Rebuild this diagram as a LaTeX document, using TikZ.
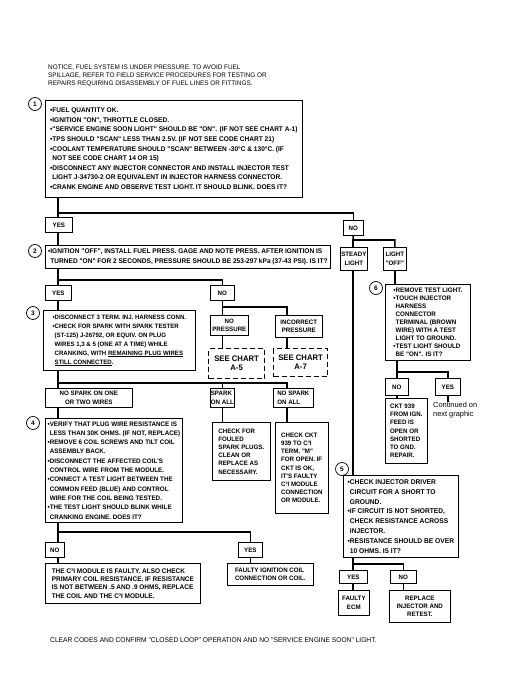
\documentclass[tikz,border=0pt]{standalone}
\usepackage{fontspec}
\setmainfont{Liberation Sans}
\newfontfamily\cf{Liberation Sans}[FakeStretch=0.965]
\newcommand{\fa}{\cf\bfseries\fontsize{6.8}{9.6}\selectfont}
\newcommand{\fb}{\cf\bfseries\fontsize{6.3}{9.0}\selectfont}
\newcommand{\fc}{\cf\bfseries\fontsize{6.4}{8.2}\selectfont}
\newcommand{\ii}{\hphantom{•}}
\begin{document}
\begin{tikzpicture}[x=1pt,y=-1pt,
  box/.style={draw, line width=0.7pt, inner sep=0pt, anchor=north west},
  lbox/.style={box, align=left},
  cbox/.style={box, align=center, font=\fc},
  see/.style={draw, dash pattern=on 5pt off 3pt, line width=1.2pt, inner sep=0pt, anchor=north west, align=center, font=\cf\bfseries\fontsize{8}{9}\selectfont},
  conn/.style={line width=1.6pt},
  num/.style={draw, circle, line width=0.7pt, minimum size=13pt, inner sep=0pt, font=\bfseries\fontsize{6.5}{7}\selectfont},
  plain/.style={anchor=north west, align=left, inner sep=0pt},
]
\useasboundingbox (0,0) rectangle (510,700);

% notice
\node[plain, font=\cf\fontsize{6.6}{8}\selectfont] (notice) at (48,65) {NOTICE, FUEL SYSTEM IS UNDER PRESSURE. TO AVOID FUEL\\SPILLAGE, REFER TO FIELD SERVICE PROCEDURES FOR TESTING OR\\REPAIRS REQUIRING DISASSEMBLY OF FUEL LINES OR FITTINGS.};

% step 1
\node[num] (n1) at (35,104) {1};
\node[lbox, font=\fa, minimum width=257pt, minimum height=97pt] (b1) at (45,100) {%
•FUEL QUANTITY OK.\\
•IGNITION "ON", THROTTLE CLOSED.\\
•"SERVICE ENGINE SOON LIGHT" SHOULD BE "ON". (IF NOT SEE CHART A-1)\\
•TPS SHOULD "SCAN" LESS THAN 2.5V. (IF NOT SEE CODE CHART 21)\\
•COOLANT TEMPERATURE SHOULD "SCAN" BETWEEN -30°C \& 130°C. (IF\\
\ii NOT SEE CODE CHART 14 OR 15)\\
•DISCONNECT ANY INJECTOR CONNECTOR AND INSTALL INJECTOR TEST\\
\ii LIGHT J-34730-2 OR EQUIVALENT IN INJECTOR HARNESS CONNECTOR.\\
•CRANK ENGINE AND OBSERVE TEST LIGHT. IT SHOULD BLINK. DOES IT?};

\node[cbox, minimum width=27pt, minimum height=15pt] (yes1) at (45,217) {YES};
\node[cbox, minimum width=20pt, minimum height=15pt] (no1) at (343,220) {NO};

% step 2
\node[num] (n2) at (35,251) {2};
\node[lbox, font=\fa, minimum width=285pt, minimum height=23pt] (b2) at (45,245) {%
•IGNITION "OFF", INSTALL FUEL PRESS. GAGE AND NOTE PRESS. AFTER IGNITION IS\\
\ii TURNED "ON" FOR 2 SECONDS, PRESSURE SHOULD BE 253-297 kPa (37-43 PSI). IS IT?};
\node[cbox, minimum width=27pt, minimum height=23pt] (steady) at (340,247) {STEADY\\LIGHT};
\node[cbox, minimum width=23pt, minimum height=23pt] (loff) at (383,247) {LIGHT\\"OFF"};

\node[cbox, minimum width=26pt, minimum height=15pt] (yes2) at (45,285) {YES};
\node[cbox, minimum width=24pt, minimum height=15pt] (no2) at (210,285) {NO};

% step 3
\node[num] (n3) at (33,313) {3};
\node[lbox, font=\fb, minimum width=152pt, minimum height=60pt] (b3) at (43,310) {%
•DISCONNECT 3 TERM. INJ. HARNESS CONN.\\
•CHECK FOR SPARK WITH SPARK TESTER\\
\ii (ST-125) J-26792, OR EQUIV. ON PLUG\\
\ii WIRES 1,3 \& 5 (ONE AT A TIME) WHILE\\
\ii CRANKING, WITH \underline{REMAINING PLUG WIRES}\\
\ii \underline{STILL CONNECTED}.};
\node[cbox, minimum width=38pt, minimum height=20pt] (nop) at (210,315) {NO\\PRESSURE};
\node[cbox, minimum width=47pt, minimum height=22pt] (inc) at (275,315) {INCORRECT\\PRESSURE};
\node[see, minimum width=56pt, minimum height=30pt] (a5) at (208,348) {SEE CHART\\A-5};
\node[see, minimum width=54pt, minimum height=28pt] (a7) at (273,348) {SEE CHART\\A-7};

% step 6
\node[num] (n6) at (376,288) {6};
\node[lbox, font=\cf\bfseries\fontsize{6.5}{7.9}\selectfont, minimum width=85pt, minimum height=76pt] (b6) at (385,284) {%
•REMOVE TEST LIGHT.\\
•TOUCH INJECTOR\\
\ii HARNESS\\
\ii CONNECTOR\\
\ii TERMINAL (BROWN\\
\ii WIRE) WITH A TEST\\
\ii LIGHT TO GROUND.\\
•TEST LIGHT SHOULD\\
\ii BE "ON". IS IT?};
\node[cbox, minimum width=23pt, minimum height=17pt] (no6) at (385,378) {NO};
\node[cbox, minimum width=25pt, minimum height=17pt] (yes6) at (435,378) {YES};
\node[lbox, font=\fc, minimum width=42pt, minimum height=65pt] (ckt) at (385,398) {CKT 939\\FROM IGN.\\FEED IS\\OPEN OR\\SHORTED\\TO GND.\\REPAIR.};
\node[plain, font=\fontsize{7.4}{8.6}\selectfont] (cont) at (433,402) {Continued on\\next graphic};

% spark branches
\node[cbox, minimum width=87pt, minimum height=19pt] (nos1) at (45,388) {NO SPARK ON ONE\\OR TWO WIRES};
\node[lbox, font=\fc, minimum width=24pt, minimum height=19pt] (spall) at (210,388) {SPARK\\ON ALL};
\node[lbox, font=\fc, minimum width=40pt, minimum height=19pt] (nosall) at (273,388) {NO SPARK\\ON ALL};
\node[lbox, font=\fc, minimum width=58pt, minimum height=58pt] (foul) at (212,422) {CHECK FOR\\FOULED\\SPARK PLUGS.\\CLEAN OR\\REPLACE AS\\NECESSARY.};
\node[lbox, font=\fc, minimum width=53pt, minimum height=91pt] (c939) at (275,422) {CHECK CKT\\939 TO C³I\\TERM. "M"\\FOR OPEN. IF\\CKT IS OK,\\IT'S FAULTY\\C³I MODULE\\CONNECTION\\OR MODULE.};

% step 4
\node[num] (n4) at (33,423) {4};
\node[lbox, font=\cf\bfseries\fontsize{6.5}{9.3}\selectfont, minimum width=137pt, minimum height=104pt] (b4) at (45,418) {%
•VERIFY THAT PLUG WIRE RESISTANCE IS\\
\ii LESS THAN 30K OHMS. (IF NOT, REPLACE)\\
•REMOVE 6 COIL SCREWS AND TILT COIL\\
\ii ASSEMBLY BACK.\\
•DISCONNECT THE AFFECTED COIL'S\\
\ii CONTROL WIRE FROM THE MODULE.\\
•CONNECT A TEST LIGHT BETWEEN THE\\
\ii COMMON FEED (BLUE) AND CONTROL\\
\ii WIRE FOR THE COIL BEING TESTED.\\
•THE TEST LIGHT SHOULD BLINK WHILE\\
\ii CRANKING ENGINE. DOES IT?};
\node[cbox, minimum width=19pt, minimum height=15pt] (no4) at (45,542) {NO};
\node[cbox, minimum width=24pt, minimum height=15pt] (yes4) at (238,542) {YES};
\node[lbox, font=\cf\bfseries\fontsize{6.7}{8.4}\selectfont, minimum width=155pt, minimum height=40pt] (c3i) at (45,563) {THE C³I MODULE IS FAULTY. ALSO CHECK\\PRIMARY COIL RESISTANCE. IF RESISTANCE\\IS NOT BETWEEN .5 AND .9 OHMS, REPLACE\\THE COIL AND THE C³I MODULE.};
\node[lbox, font=\fc, minimum width=86pt, minimum height=22pt] (fcoil) at (227,563) {FAULTY IGNITION COIL\\CONNECTION OR COIL.};

% step 5
\node[num] (n5) at (342,469) {5};
\node[lbox, font=\cf\bfseries\fontsize{6.9}{9.8}\selectfont, minimum width=115pt, minimum height=82pt] (b5) at (343,475) {%
•CHECK INJECTOR DRIVER\\
\ii CIRCUIT FOR A SHORT TO\\
\ii GROUND.\\
•IF CIRCUIT IS NOT SHORTED,\\
\ii CHECK RESISTANCE ACROSS\\
\ii INJECTOR.\\
•RESISTANCE SHOULD BE OVER\\
\ii 10 OHMS. IS IT?};
\node[cbox, minimum width=28pt, minimum height=13pt] (yes5) at (339,570) {YES};
\node[cbox, minimum width=26pt, minimum height=13pt] (no5) at (390,570) {NO};
\node[cbox, minimum width=31pt, minimum height=25pt] (ecm) at (338,590) {FAULTY\\ECM};
\node[cbox, minimum width=61pt, minimum height=32pt] (rep) at (389,590) {REPLACE\\INJECTOR AND\\RETEST.};

% footer
\node[plain, font=\cf\fontsize{6.9}{7}\selectfont] (foot) at (50,637) {CLEAR CODES AND CONFIRM "CLOSED LOOP" OPERATION AND NO "SERVICE ENGINE SOON" LIGHT.};

% junctions
\coordinate (j1) at (58,213);
\coordinate (j2) at (353,240);
\coordinate (j3) at (58,280);
\coordinate (k) at (287,307);
\coordinate (j4) at (58,383);
\coordinate (m) at (287,383);
\coordinate (j6) at (397,372);
\coordinate (j7) at (58,532);
\coordinate (j8) at (353,564);

% connectors
\draw[conn] (b1.south -| j1) -- (yes1.north -| j1);
\draw[conn] (j1) -| (no1.north);
\draw[conn] (yes1.south -| j1) -- (b2.north -| j1);
\draw[conn] (no1.south) -- (j2) -| (loff.north);
\draw[conn] (j2) -- (steady.north -| j2);
\draw[conn] (steady.south -| j2) -- (b5.north -| j2);
\draw[conn] (loff.south) -- (loff.south |- b6.north);
\draw[conn] (b2.south -| j3) -- (yes2.north -| j3);
\draw[conn] (j3) -| (no2.north);
\draw[conn] (yes2.south -| j3) -- (b3.north -| j3);
\draw[conn] (no2.south) -- (nop.north -| no2.south);
\draw[conn] (no2.south |- k) -- (k) -- (k |- inc.north);
\draw[conn] (nop.south -| no2.south) -- (a5.north -| no2.south);
\draw[conn] (inc.south -| k) -- (a7.north -| k);
\draw[conn] (b3.south -| j4) -- (nos1.north -| j4);
\draw[conn] (j4) -- (m) -- (m |- nosall.north);
\draw[conn] (spall.north |- j4) -- (spall.north);
\draw[conn] (nos1.south -| j4) -- (b4.north -| j4);
\draw[conn] (spall.south) -- (spall.south |- foul.north);
\draw[conn] (nosall.south -| m) -- (c939.north -| m);
\draw[conn] (b6.south -| j6) -- (no6.north -| j6);
\draw[conn] (j6) -| (yes6.north);
\draw[conn] (yes6.south) -- ++(0,6);
\draw[conn] (no6.south -| j6) -- (ckt.north -| j6);
\draw[conn] (b4.south -| j7) -- (no4.north -| j7);
\draw[conn] (j7) -| (yes4.north);
\draw[conn] (no4.south -| j7) -- (c3i.north -| j7);
\draw[conn] (yes4.south) -- (yes4.south |- fcoil.north);
\draw[conn] (b5.south -| j8) -- (yes5.north -| j8);
\draw[conn] (j8) -| (no5.north);
\draw[conn] (yes5.south -| j8) -- (ecm.north -| j8);
\draw[conn] (no5.south) -- (no5.south |- rep.north);
\end{tikzpicture}
\end{document}
